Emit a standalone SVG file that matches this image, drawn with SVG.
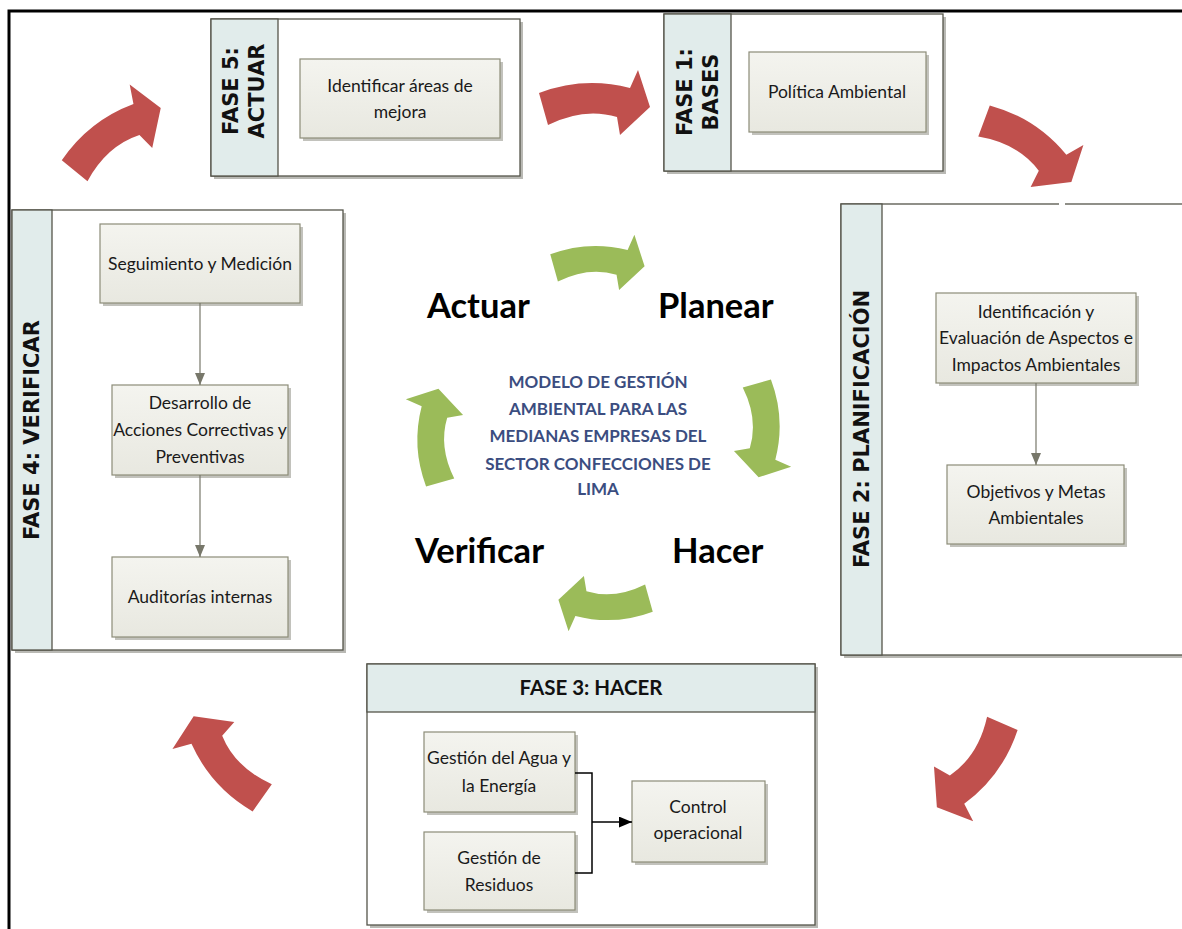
<svg xmlns="http://www.w3.org/2000/svg" width="1182" height="929" viewBox="0 0 1182 929">
  <defs>
    <style>
      .page{stroke:#000;stroke-width:3;fill:none}
      .phase{fill:#fff;stroke:#55554a;stroke-width:1.3}
      .pshadow{fill:#b9b9b4}
      .strip{fill:#e1eceb;stroke:#55554a;stroke-width:1.3}
      .box{fill:url(#boxfill);stroke:#8c8c78;stroke-width:1.2}
      .bshadow{fill:#c2c2bc}
      .lbl{font-family:Lato,"Liberation Sans",sans-serif;font-size:17.5px;fill:#1a1a1a;text-anchor:middle}
      .ptitle{font-family:"DejaVu Sans",Verdana,sans-serif;font-weight:bold;font-size:21px;fill:#111;text-anchor:middle}
      .htitle{font-family:Lato,"Liberation Sans",sans-serif;font-weight:bold;font-size:20.5px;fill:#111;text-anchor:middle}
      .big{font-family:Lato,"Liberation Sans",sans-serif;font-weight:bold;font-size:34.5px;fill:#000}
      .model{font-family:Lato,"Liberation Sans",sans-serif;font-weight:bold;font-size:17px;fill:#3b4d80;text-anchor:middle}
      .red{fill:#c0504d}
      .green{fill:#9bbb59}
      .conn{stroke:#77776a;stroke-width:1.2;fill:none}
      .connk{stroke:#000;stroke-width:1.5;fill:none}
    </style>
    <linearGradient id="boxfill" x1="0" y1="0" x2="0" y2="1">
      <stop offset="0" stop-color="#f4f4ef"/>
      <stop offset="1" stop-color="#e8e8e0"/>
    </linearGradient>
    <!-- curved block arrow, pointing right, arching upward -->
    <path id="curved" d="M -55,-9 Q -10,-26 36,-14 L 44,-32 L 56,5 L 26,33 L 23,15 Q -10,5 -46,23 Z"/>
    <marker id="ahGrey" viewBox="0 0 12 10" refX="12" refY="5" markerWidth="12" markerHeight="10" markerUnits="userSpaceOnUse" orient="auto">
      <path d="M0,0 L12,5 L0,10 Z" fill="#77776a"/>
    </marker>
    <marker id="ahBlack" viewBox="0 0 12 10" refX="12" refY="5" markerWidth="13" markerHeight="11" markerUnits="userSpaceOnUse" orient="auto">
      <path d="M0,0 L12,5 L0,10 Z" fill="#000"/>
    </marker>
  </defs>

  <rect x="0" y="0" width="1182" height="929" fill="#fff"/>

  <!-- page frame -->
  <path class="page" d="M 9,929 L 9,11 L 1182,11"/>

  <!-- outer cycle of red arrows -->
  <g id="cycle-red">
    <use href="#curved" class="red" transform="translate(594,102)"/>
    <use href="#curved" class="red" transform="translate(1029,145) rotate(36)"/>
    <use href="#curved" class="red" transform="translate(976,767) rotate(129)"/>
    <use href="#curved" class="red" transform="translate(225,763) rotate(-129)"/>
    <use href="#curved" class="red" transform="translate(112,136) rotate(-35)"/>
  </g>

  <!-- FASE 5 -->
  <g id="fase5">
    <rect class="pshadow" x="214" y="22" width="309" height="157"/>
    <rect class="phase" x="211" y="19" width="309" height="157"/>
    <rect class="strip" x="211" y="19" width="67" height="157"/>
    <text class="ptitle" transform="translate(238,91) rotate(-90)">FASE 5:</text>
    <text class="ptitle" transform="translate(264,91) rotate(-90)">ACTUAR</text>
    <g id="identificar">
      <rect class="bshadow" x="303" y="62" width="200" height="79"/>
      <rect class="box" x="300" y="59" width="200" height="79"/>
      <text class="lbl" x="400" y="92">Identificar áreas de</text>
      <text class="lbl" x="400" y="118">mejora</text>
    </g>
  </g>

  <!-- FASE 1 -->
  <g id="fase1">
    <rect class="pshadow" x="667" y="17" width="279" height="157"/>
    <rect class="phase" x="664" y="14" width="279" height="157"/>
    <rect class="strip" x="664" y="14" width="67" height="157"/>
    <text class="ptitle" transform="translate(692,92) rotate(-90)">FASE 1:</text>
    <text class="ptitle" transform="translate(718,92) rotate(-90)">BASES</text>
    <g id="politica">
      <rect class="bshadow" x="752" y="55" width="177" height="80"/>
      <rect class="box" x="749" y="52" width="177" height="80"/>
      <text class="lbl" x="837" y="98">Política Ambiental</text>
    </g>
  </g>

  <!-- FASE 2 -->
  <g id="fase2">
    <rect class="pshadow" x="844" y="207" width="360" height="451"/>
    <rect class="phase" x="841" y="204" width="360" height="451"/>
    <rect class="strip" x="841" y="204" width="41" height="451"/>
    <rect x="1059" y="201" width="6" height="6" fill="#fff"/>
    <text class="ptitle" transform="translate(869,429) rotate(-90)">FASE 2: PLANIFICACIÓN</text>
    <g id="aspectos">
      <rect class="bshadow" x="939" y="296" width="200" height="90"/>
      <rect class="box" x="936" y="293" width="200" height="90"/>
      <text class="lbl" x="1036" y="318">Identificación y</text>
      <text class="lbl" x="1036" y="344">Evaluación de Aspectos e</text>
      <text class="lbl" x="1036" y="371">Impactos Ambientales</text>
    </g>
    <g id="objetivos">
      <rect class="bshadow" x="950" y="468" width="177" height="79"/>
      <rect class="box" x="947" y="465" width="177" height="79"/>
      <text class="lbl" x="1036" y="498">Objetivos y Metas</text>
      <text class="lbl" x="1036" y="524">Ambientales</text>
    </g>
  </g>

  <!-- FASE 4 -->
  <g id="fase4">
    <rect class="pshadow" x="15" y="213" width="331" height="440"/>
    <rect class="phase" x="12" y="210" width="331" height="440"/>
    <rect class="strip" x="12" y="210" width="40" height="440"/>
    <text class="ptitle" transform="translate(39,430) rotate(-90)">FASE 4: VERIFICAR</text>
    <g id="seguimiento">
      <rect class="bshadow" x="103" y="227" width="200" height="79"/>
      <rect class="box" x="100" y="224" width="200" height="79"/>
      <text class="lbl" x="200" y="270">Seguimiento y Medición</text>
    </g>
    <g id="acciones">
      <rect class="bshadow" x="115" y="388" width="176" height="90"/>
      <rect class="box" x="112" y="385" width="176" height="90"/>
      <text class="lbl" x="200" y="409">Desarrollo de</text>
      <text class="lbl" x="200" y="436">Acciones Correctivas y</text>
      <text class="lbl" x="200" y="463">Preventivas</text>
    </g>
    <g id="auditorias">
      <rect class="bshadow" x="115" y="560" width="176" height="80"/>
      <rect class="box" x="112" y="557" width="176" height="80"/>
      <text class="lbl" x="200" y="603">Auditorías internas</text>
    </g>
  </g>

  <!-- FASE 3 -->
  <g id="fase3">
    <rect class="pshadow" x="370" y="667" width="448" height="261"/>
    <rect class="phase" x="367" y="664" width="448" height="261"/>
    <rect class="strip" x="367" y="664" width="448" height="48"/>
    <text class="htitle" x="591" y="695">FASE 3: HACER</text>
    <g id="agua">
      <rect class="bshadow" x="427" y="735" width="151" height="80"/>
      <rect class="box" x="424" y="732" width="151" height="80"/>
      <text class="lbl" x="499" y="764">Gestión del Agua y</text>
      <text class="lbl" x="499" y="792">la Energía</text>
    </g>
    <g id="residuos">
      <rect class="bshadow" x="427" y="835" width="151" height="78"/>
      <rect class="box" x="424" y="832" width="151" height="78"/>
      <text class="lbl" x="499" y="864">Gestión de</text>
      <text class="lbl" x="499" y="891">Residuos</text>
    </g>
    <g id="control">
      <rect class="bshadow" x="635" y="784" width="133" height="81"/>
      <rect class="box" x="632" y="781" width="133" height="81"/>
      <text class="lbl" x="698" y="813">Control</text>
      <text class="lbl" x="698" y="839">operacional</text>
    </g>
  </g>

  <!-- connectors -->
  <g id="connectors">
    <line class="conn" x1="200" y1="303" x2="200" y2="385" marker-end="url(#ahGrey)"/>
    <line class="conn" x1="200" y1="475" x2="200" y2="557" marker-end="url(#ahGrey)"/>
    <line class="conn" x1="1036" y1="383" x2="1036" y2="465" marker-end="url(#ahGrey)"/>
    <path class="connk" d="M 575,773 L 592,773 L 592,873 L 575,873"/>
    <line class="connk" x1="592" y1="822" x2="632" y2="822" marker-end="url(#ahBlack)"/>
  </g>

  <!-- inner PDCA cycle -->
  <g id="cycle-green">
    <use href="#curved" class="green" transform="translate(597,262) scale(0.85)"/>
    <use href="#curved" class="green" transform="translate(763,428) rotate(90) scale(0.88)"/>
    <use href="#curved" class="green" transform="translate(606,604) rotate(180) scale(0.85)"/>
    <use href="#curved" class="green" transform="translate(434,438) rotate(-90) scale(0.88)"/>
  </g>

  <g id="pdca-labels">
    <text class="big" x="427" y="318">Actuar</text>
    <text class="big" x="658" y="318">Planear</text>
    <text class="big" x="415" y="563">Verificar</text>
    <text class="big" x="672" y="563">Hacer</text>
  </g>

  <g id="model-title">
    <text class="model" x="598" y="388">MODELO DE GESTIÓN</text>
    <text class="model" x="598" y="415">AMBIENTAL PARA LAS</text>
    <text class="model" x="598" y="442">MEDIANAS EMPRESAS DEL</text>
    <text class="model" x="598" y="470">SECTOR CONFECCIONES DE</text>
    <text class="model" x="598" y="495">LIMA</text>
  </g>
</svg>
